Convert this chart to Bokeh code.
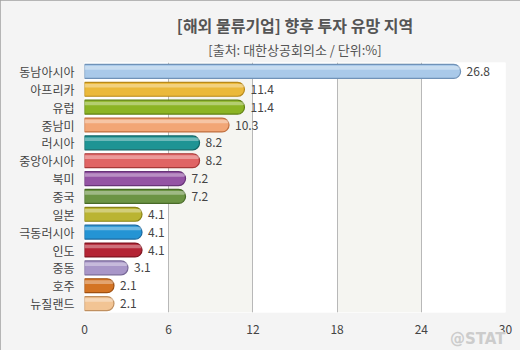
from bokeh.plotting import figure
from bokeh.models import FactorRange, FixedTicker, Title, ColumnDataSource
from bokeh.transform import dodge
from bokeh.embed import file_html
from bokeh.resources import INLINE
from bokeh.core.properties import value

# ---- data ----
regions = ["동남아시아", "아프리카", "유럽", "중남미", "러시아", "중앙아시아", "북미",
           "중국", "일본", "극동러시아", "인도", "중동", "호주", "뉴질랜드"]
shares = [26.8, 11.4, 11.4, 10.3, 8.2, 8.2, 7.2, 7.2, 4.1, 4.1, 4.1, 3.1, 2.1, 2.1]
tick_values = [0, 6, 12, 18, 24, 30]
title_text = "[해외 물류기업] 향후 투자 유망 지역"
subtitle_text = "[출처: 대한상공회의소 / 단위:%]"
watermark_text = "@STAT"

fill_colors = ["#a9c9e9", "#ebb93a", "#8cb424", "#f2a676", "#1e9494", "#e06464", "#9454a4",
               "#6c9444", "#bab432", "#2494d4", "#b42434", "#a896c8", "#d47424", "#f2c494"]
line_colors = ["#7092b8", "#b8891a", "#5f8010", "#c07040", "#106666", "#a83838", "#683478",
               "#486a28", "#8a8418", "#1868a0", "#801420", "#786898", "#a05010", "#c09060"]

FONT = "Noto Sans CJK KR"

source = ColumnDataSource(dict(
    region=regions,
    share=shares,
    label=[f"{v:.1f}" for v in shares],
    fill=fill_colors,
    line=line_colors,
))

p = figure(width=520, height=350, output_backend="svg", toolbar_location=None,
           y_range=FactorRange(*reversed(regions)), x_range=(0, 30),
           min_border_left=84, min_border_right=15, min_border_top=62, min_border_bottom=38,
           background_fill_color="white", border_fill_color="#f4f4f4")
p.outline_line_color = None
p.styles = {"outline": "1px solid #a0a0a0", "outline-offset": "-1px"}

sub = Title(text=subtitle_text, align="center", text_font=FONT, text_font_size="13px",
            text_font_style="normal", text_color="#555555", standoff=7)
main = Title(text=title_text, align="center", text_font=FONT, text_font_size="16px",
             text_font_style="bold", text_color="#555555", standoff=-4)
p.add_layout(sub, "above")
p.add_layout(main, "above")

wm = Title(text=watermark_text, align="right", text_font="DejaVu Sans", text_font_size="15px",
           text_font_style="bold", text_color="#cccccc", standoff=-18)
p.add_layout(wm, "below")

# grid
p.ygrid.grid_line_color = None
p.xgrid.grid_line_color = "#b8b8b8"
p.xgrid.band_fill_color = "#f5f5f1"
p.xgrid.band_fill_alpha = 1.0

# axes
p.xaxis.ticker = FixedTicker(ticks=tick_values)
for ax in (p.xaxis, p.yaxis):
    ax.axis_line_color = None
    ax.major_tick_line_color = None
    ax.minor_tick_line_color = None
    ax.major_label_text_font = FONT
    ax.major_label_text_font_size = "12px"
    ax.major_label_text_color = "#444444"
p.xaxis.major_label_standoff = 6
p.yaxis.major_label_standoff = 4

# bars
p.hbar(y="region", left=0, right="share", height=0.78, source=source,
       fill_color="fill", line_color="line", line_width=1.2,
       border_radius=(0, 7, 7, 0))
# glossy highlight
p.hbar(y=dodge("region", 0.2, range=p.y_range), left=0, right="share", height=0.2,
       source=source, fill_color="white", fill_alpha=0.35, line_color=None,
       border_radius=(0, 3, 3, 0))

p.text(x="share", y="region", text="label", source=source, x_offset=6,
       text_baseline="middle", text_align="left", text_font=value(FONT),
       text_font_size="12px", text_color="#444444")

html = file_html(p, INLINE)
open("out.html", "w").write(html)
